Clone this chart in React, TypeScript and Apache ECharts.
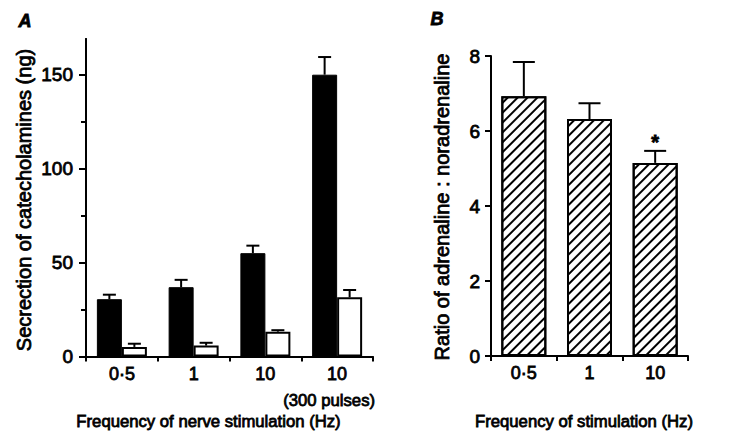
import React, { useEffect, useRef } from 'react';
import * as echarts from 'echarts';

// ---------- Panel A data ----------
const CATEGORIES_A = ['0·5', '1', '10', '10\n(300 pulses)'];
const BLACK_MEAN = [30.5, 36.9, 55.0, 150.0];
const BLACK_SEM = [2.4, 3.9, 4.0, 9.4];
const WHITE_MEAN = [5.1, 5.8, 13.2, 31.5];
const WHITE_SEM = [1.7, 1.5, 0.8, 3.9];
const A_Y_MAX = 169;
const A_MAJOR_TICKS = [0, 50, 100, 150];
const A_MINOR_TICKS = [25, 75, 125];

// ---------- Panel B data ----------
const CATEGORIES_B = ['0·5', '1', '10'];
const RATIO_MEAN = [6.93, 6.32, 5.15];
const RATIO_SEM = [0.91, 0.42, 0.32];
const RATIO_SIG = ['', '', '*'];
const B_Y_MAX = 8;
const B_Y_INTERVAL = 2;

// ---------- Texts ----------
const PANEL_A = 'A';
const PANEL_B = 'B';
const A_Y_TITLE = 'Secrection of catecholamines (ng)';
const A_X_TITLE = 'Frequency of nerve stimulation (Hz)';
const B_Y_TITLE = 'Ratio of adrenaline : noradrenaline';
const B_X_TITLE = 'Frequency of stimulation (Hz)';

const FONT = '"Liberation Sans", Arial, Helvetica, sans-serif';
const BAR_A = 25;
const BAR_B = 45;
const STROKE_W = 0.8;
const HEAVY = { textBorderColor: '#000', textBorderWidth: STROKE_W };

function errorRenderer(offset: number, capW: number, sig?: string[]) {
  return (params: any, api: any) => {
    const i = api.value(0);
    const m = api.value(1);
    const t = api.value(2);
    const a = api.coord([i, m]);
    const b = api.coord([i, t]);
    const x = a[0] + offset;
    const style = { stroke: '#000', lineWidth: 2 };
    const children: any[] = [
      { type: 'line', shape: { x1: x, y1: a[1], x2: x, y2: b[1] }, style },
      { type: 'line', shape: { x1: x - capW / 2, y1: b[1], x2: x + capW / 2, y2: b[1] }, style },
    ];
    if (sig && sig[params.dataIndex]) {
      children.push({
        type: 'text',
        x,
        y: b[1] - 9,
        style: {
          text: sig[params.dataIndex],
          font: `bold 20px ${FONT}`,
          fill: '#000',
          stroke: '#000',
          lineWidth: STROKE_W,
          textAlign: 'center',
          textVerticalAlign: 'middle',
        },
      });
    }
    return { type: 'group', children };
  };
}

function textEl(text: string, x: number, y: number, font: string, rotation = 0) {
  return {
    type: 'text',
    x,
    y,
    rotation,
    style: {
      text,
      font,
      fill: '#000',
      stroke: '#000',
      lineWidth: STROKE_W,
      textAlign: 'center',
      textVerticalAlign: 'middle',
    },
  };
}

export default function App() {
  const ref = useRef<HTMLDivElement>(null);
  useEffect(() => {
    document.body.style.margin = '0';
    if (!ref.current) return;
    const chart = echarts.init(ref.current, undefined, { renderer: 'svg' });
    const axisLine = { show: true, lineStyle: { color: '#000', width: 2 } };
    const tickStyle = { color: '#000', width: 2 };
    const labelBase = { color: '#000', fontFamily: FONT, fontSize: 18, ...HEAVY };
    const yLabel = { ...labelBase, fontSize: 19 };
    chart.setOption({
      animation: false,
      backgroundColor: '#fff',
      grid: [
        { left: 86, top: 39, right: 357, bottom: 85.5, outerBoundsMode: 'none' },
        { left: 491, top: 56, right: 42, bottom: 86, outerBoundsMode: 'none' },
      ],
      xAxis: [
        {
          type: 'category',
          gridIndex: 0,
          data: CATEGORIES_A,
          axisLine,
          axisTick: { show: true, length: 5, lineStyle: tickStyle },
          splitLine: { show: false },
          axisLabel: {
            ...labelBase,
            margin: 8,
            interval: 0,
            formatter: (v: string) => {
              const parts = v.split('\n');
              return parts.length > 1 ? `{a|${parts[0]}}\n{b|${parts[1]}}` : `{a|${parts[0]}}`;
            },
            rich: {
              a: { fontSize: 18, lineHeight: 18, fontFamily: FONT, color: '#000', ...HEAVY },
              b: { fontSize: 16.7, lineHeight: 35, fontFamily: FONT, color: '#000', padding: [0, 16, 0, 0], ...HEAVY },
            },
          },
        },
        {
          type: 'category',
          gridIndex: 1,
          data: CATEGORIES_B,
          axisLine,
          axisTick: { show: true, length: 5, lineStyle: tickStyle },
          splitLine: { show: false },
          axisLabel: { ...labelBase, margin: 8, interval: 0 },
        },
      ],
      yAxis: [
        {
          type: 'value',
          gridIndex: 0,
          min: 0,
          max: A_Y_MAX,
          axisLine,
          axisTick: { show: true, length: 7, lineStyle: tickStyle, customValues: A_MAJOR_TICKS },
          axisLabel: { ...yLabel, margin: 13, customValues: A_MAJOR_TICKS },
          splitLine: { show: false },
        },
        {
          type: 'value',
          gridIndex: 0,
          position: 'left',
          offset: 0,
          min: 0,
          max: A_Y_MAX,
          axisLine,
          axisTick: { show: true, length: 5, lineStyle: tickStyle, customValues: A_MINOR_TICKS },
          axisLabel: { show: false },
          splitLine: { show: false },
        },
        {
          type: 'value',
          gridIndex: 1,
          min: 0,
          max: B_Y_MAX,
          interval: B_Y_INTERVAL,
          axisLine,
          axisTick: { show: true, length: 6, lineStyle: tickStyle },
          axisLabel: { ...yLabel, margin: 11 },
          splitLine: { show: false },
        },
      ],
      series: [
        {
          type: 'bar',
          xAxisIndex: 0,
          yAxisIndex: 0,
          data: BLACK_MEAN,
          barWidth: BAR_A,
          barGap: '0%',
          itemStyle: { color: '#000', borderColor: '#000', borderWidth: 1 },
        },
        {
          type: 'bar',
          xAxisIndex: 0,
          yAxisIndex: 0,
          data: WHITE_MEAN,
          barWidth: BAR_A,
          barGap: '0%',
          itemStyle: { color: '#fff', borderColor: '#000', borderWidth: 2 },
        },
        {
          type: 'custom',
          xAxisIndex: 0,
          yAxisIndex: 0,
          data: BLACK_MEAN.map((m, i) => [i, m, m + BLACK_SEM[i]]),
          encode: { x: 0, y: [1, 2] },
          renderItem: errorRenderer(-BAR_A / 2, 13),
          z: 3,
        },
        {
          type: 'custom',
          xAxisIndex: 0,
          yAxisIndex: 0,
          data: WHITE_MEAN.map((m, i) => [i, m, m + WHITE_SEM[i]]),
          encode: { x: 0, y: [1, 2] },
          renderItem: errorRenderer(BAR_A / 2, 13),
          z: 3,
        },
        {
          type: 'bar',
          xAxisIndex: 1,
          yAxisIndex: 2,
          data: RATIO_MEAN,
          barWidth: BAR_B,
          itemStyle: {
            color: '#fff',
            borderColor: '#000',
            borderWidth: 2,
            decal: {
              symbol: 'rect',
              symbolSize: 1,
              color: '#000',
              dashArrayX: [1, 0],
              dashArrayY: [1.4, 4.3],
              rotation: -Math.PI / 4,
            },
          },
        },
        {
          type: 'custom',
          xAxisIndex: 1,
          yAxisIndex: 2,
          data: RATIO_MEAN.map((m, i) => [i, m, m + RATIO_SEM[i]]),
          encode: { x: 0, y: [1, 2] },
          renderItem: errorRenderer(0, 22, RATIO_SIG),
          z: 3,
        },
      ],
      graphic: [
        textEl(PANEL_A, 25, 21, `italic bold 18px ${FONT}`),
        textEl(PANEL_B, 437, 19, `italic bold 18px ${FONT}`),
        textEl(A_Y_TITLE, 24, 200, `20px ${FONT}`, Math.PI / 2),
        textEl(B_Y_TITLE, 442, 207, `20px ${FONT}`, Math.PI / 2),
        textEl(A_X_TITLE, 208.5, 421, `16.7px ${FONT}`),
        textEl(B_X_TITLE, 584, 421, `16.7px ${FONT}`),
      ],
    });
    return () => chart.dispose();
  }, []);
  return <div ref={ref} style={{ width: 730, height: 442 }} />;
}
